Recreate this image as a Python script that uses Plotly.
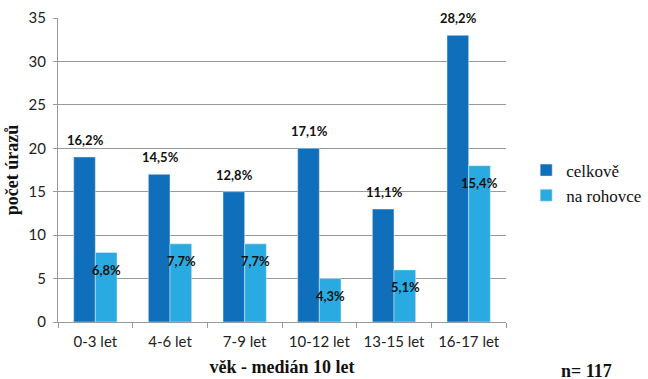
import plotly.graph_objects as go

categories = ['0-3 let', '4-6 let', '7-9 let', '10-12 let', '13-15 let', '16-17 let']
celkove = [19, 17, 15, 20, 13, 33]
rohovce = [8, 9, 9, 5, 6, 18]
celkove_pct = ['16,2%', '14,5%', '12,8%', '17,1%', '11,1%', '28,2%']
rohovce_pct = ['6,8%', '7,7%', '7,7%', '4,3%', '5,1%', '15,4%']
y_ticks = [0, 5, 10, 15, 20, 25, 30, 35]

serif = 'Liberation Serif'
sans = 'Lato'
label_font = dict(family=sans, size=13, color='#111111', weight='bold')

fig = go.Figure()

fig.add_trace(go.Bar(
    x=categories,
    y=celkove,
    name='celkově',
    marker=dict(color='#0F6FBA')
))

fig.add_trace(go.Bar(
    x=categories,
    y=rohovce,
    name='na rohovce',
    marker=dict(color='#29ABE2')
))

# percentage labels: above the dark bars, just inside the top of the light bars
for cat, val, pct in zip(categories, celkove, celkove_pct):
    fig.add_annotation(x=cat, y=val, text=pct, showarrow=False,
                       xshift=-10, yshift=17, font=label_font)
for cat, val, pct in zip(categories, rohovce, rohovce_pct):
    fig.add_annotation(x=cat, y=val, text=pct, showarrow=False,
                       xshift=11, yshift=-17, font=label_font)

fig.add_annotation(
    text='<b>n= 117</b>', xref='paper', yref='paper',
    x=1.18, y=-0.16, xanchor='center', yanchor='middle',
    showarrow=False, font=dict(family=serif, size=18, color='#111111')
)

fig.update_layout(
    width=648,
    height=379,
    margin=dict(l=58, r=142, t=18, b=57),
    barmode='group',
    bargap=0.42,
    bargroupgap=0,
    paper_bgcolor='white',
    plot_bgcolor='white',
    font=dict(family=sans, size=15, color='#222222'),
    showlegend=True,
    legend=dict(
        xref='container', yref='container',
        x=0.812, y=0.517, xanchor='left', yanchor='middle',
        font=dict(family=serif, size=17, color='#111111'),
        itemwidth=30, tracegroupgap=6
    ),
    xaxis=dict(
        automargin=False,
        title=dict(text='<b>věk - medián 10 let</b>', font=dict(family=serif, size=18, color='#111111'), standoff=11),
        showline=True, linecolor='#999999', linewidth=1,
        ticks='outside', tickson='boundaries', ticklen=5, tickcolor='#999999',
        ticklabelstandoff=6,
        tickfont=dict(family=sans, size=15, color='#222222')
    ),
    yaxis=dict(
        automargin=False,
        title=dict(text='<b>počet úrazů</b>', font=dict(family=serif, size=18, color='#111111'), standoff=5),
        range=[0, 35], tickvals=y_ticks,
        showline=True, linecolor='#999999', linewidth=1,
        showgrid=True, gridcolor='#999999', gridwidth=1,
        ticks='outside', ticklen=4, tickcolor='#999999',
        ticklabelstandoff=4,
        tickfont=dict(family=sans, size=15, color='#222222'),
        zeroline=False
    )
)

# page body has a default margin; drop it so the figure sits at the corner
fig.write_html('out.html', config={'displayModeBar': False},
               post_script="document.body.style.margin='0';")
